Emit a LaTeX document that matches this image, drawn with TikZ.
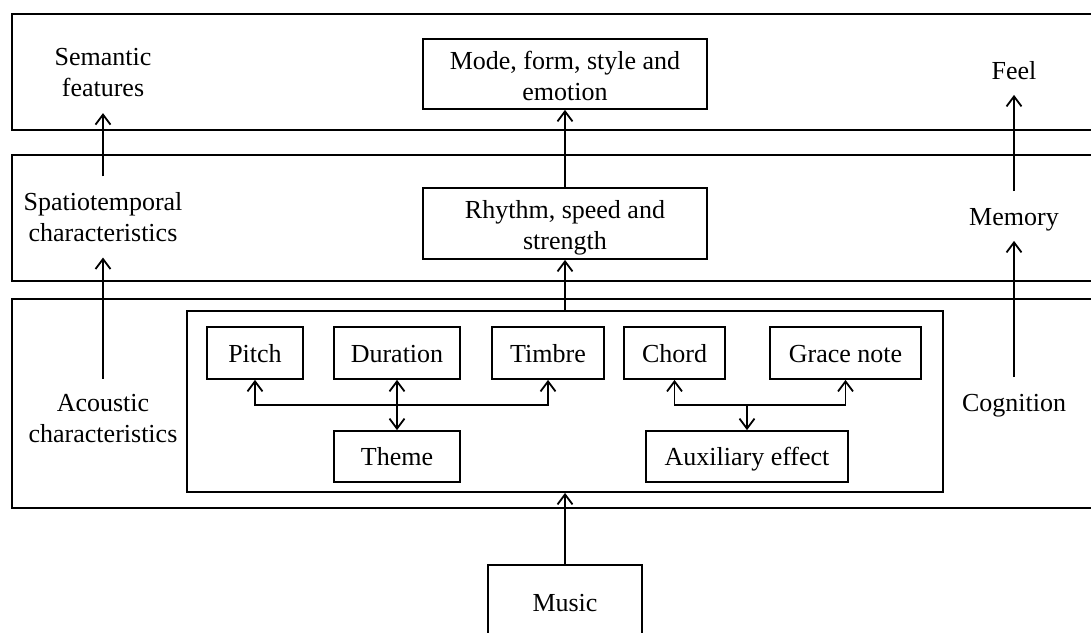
\documentclass[tikz,border=0pt]{standalone}
\usepackage{fontspec}
\setmainfont{Liberation Serif}
\usetikzlibrary{arrows.meta}
\begin{document}
\begin{tikzpicture}[x=1pt,y=-1pt,
  font=\fontsize{26}{31}\selectfont,
  line width=1.8pt,
  tip/.tip={Straight Barb[length=10pt,width=15pt,line width=1.8pt]},
  arr/.style={-tip},
  dbl/.style={tip-tip},
  box/.style={draw, line width=1.8pt, inner sep=0pt, align=center},
  sbox/.style={box, text height=18pt, text depth=0pt},
  band/.style={draw, line width=1.8pt, inner sep=0pt},
  txt/.style={align=center, inner sep=0pt},
  lbl/.style={align=center, inner sep=15pt},
  slbl/.style={lbl, text height=18pt, text depth=0pt}]
\useasboundingbox (0,0) rectangle (1091,632);
% bands
\node[band, minimum width=1090pt, minimum height=116pt] (band1) at (557,72) {};
\node[band, minimum width=1090pt, minimum height=126pt] (band2) at (557,218) {};
\node[band, minimum width=1090pt, minimum height=209pt] (band3) at (557,403.5) {};
\node[box, minimum width=756pt, minimum height=181pt] (inner) at (565,401.5) {};
% central boxes
\node[box, minimum width=284pt, minimum height=70pt] (mode) at (565,74) {};
\node[txt] (modetext) at (565,76) {Mode, form, style and\\emotion};
\node[box, minimum width=284pt, minimum height=71pt] (rhythm) at (565,223.5) {};
\node[txt] (rhythmtext) at (565,227.5) {Rhythm, speed and\\strength};
\node[sbox, minimum width=154pt, minimum height=74pt] (music) at (565,602) {Music};
% inner boxes
\node[sbox, minimum width=96pt, minimum height=52pt] (pitch) at (255,353) {Pitch};
\node[sbox, minimum width=126pt, minimum height=52pt] (duration) at (397,353) {Duration};
\node[sbox, minimum width=112pt, minimum height=52pt] (timbre) at (548,353) {Timbre};
\node[sbox, minimum width=101pt, minimum height=52pt] (chord) at (674.5,353) {Chord};
\node[sbox, minimum width=151pt, minimum height=52pt] (grace) at (845.5,353) {Grace note};
\node[sbox, minimum width=126pt, minimum height=51pt] (theme) at (397,456.5) {Theme};
\node[sbox, minimum width=202pt, minimum height=51pt] (aux) at (747,456.5) {Auxiliary effect};
% side labels
\node[lbl] (sem) at (103,73) {Semantic\\features};
\node[lbl] (spatio) at (103,217) {Spatiotemporal\\characteristics};
\node[lbl] (acoustic) at (103,419) {Acoustic\\characteristics};
\node[slbl] (feel) at (1014,70) {Feel};
\node[slbl] (memory) at (1014,216) {Memory};
\node[slbl] (cognition) at (1014,402) {Cognition};
% junctions
\coordinate (j1) at (397,405);
\coordinate (j2) at (747,405);
% connectors
\draw[dbl] (pitch.south) |- (j1) -| (timbre.south);
\draw[dbl, line width=2.2pt] (duration.south) -- (theme.north);
\draw[dbl] (chord.south) |- (j2) -| (grace.south);
\draw[arr] (j2) -- (aux.north);
\draw[arr] (music.north) -- (inner.south);
\draw[arr] (inner.north) -- (rhythm.south);
\draw[arr] (rhythm.north) -- (mode.south);
\draw[arr] (acoustic.north) -- (spatio.south);
\draw[arr] (spatio.north) -- (sem.south);
\draw[arr] (cognition.north) -- (memory.south);
\draw[arr] (memory.north) -- (feel.south);
\end{tikzpicture}
\end{document}
